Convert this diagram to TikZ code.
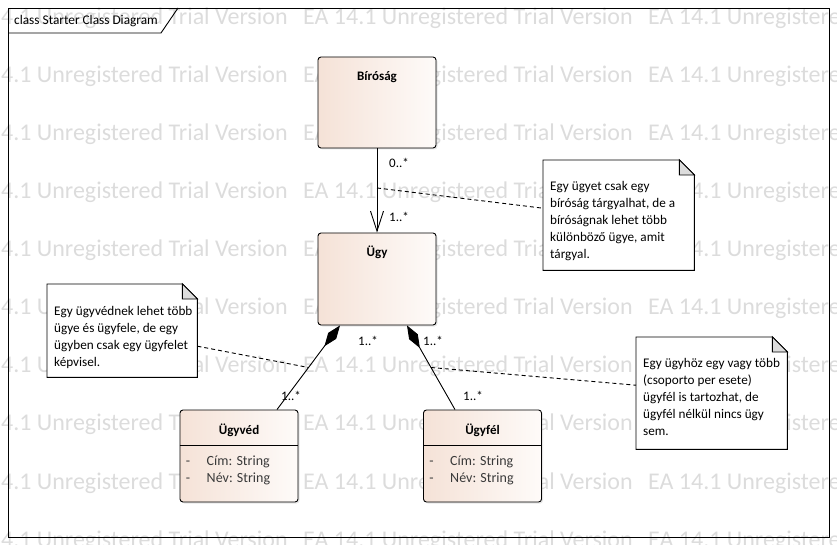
\documentclass[tikz,border=0pt]{standalone}
\usepackage{fontspec}
\setmainfont{Carlito}
\usepackage{tikz}
\usetikzlibrary{arrows.meta,calc,positioning,shadows}
\definecolor{tinta}{HTML}{000000}
\definecolor{attrszin}{HTML}{3A3A3A}
\definecolor{osztaly1}{HTML}{F5E2D7}
\definecolor{osztaly2}{HTML}{FEFBF9}
\definecolor{vizjelszin}{HTML}{DCDCDC}
\definecolor{hajtas}{HTML}{DCDCDC}
\tikzset{
  osztaly/.style={rectangle,rounded corners=3pt,draw=tinta,line width=0.9pt,left color=osztaly1,right color=osztaly2,drop shadow={opacity=0.2,shadow xshift=1.5pt,shadow yshift=-1.5pt},inner sep=0pt,minimum width=118pt},
  cim/.style={font=\fontsize{13}{15}\selectfont\bfseries,inner sep=0pt},
  attrib/.style={font=\fontsize{14}{17}\selectfont,text=attrszin,align=left,inner sep=0pt,anchor=north west},
  jegyzet/.style={rectangle,fill=white,inner sep=0pt,anchor=north west},
  jszoveg/.style={font=\fontsize{13.2}{17}\selectfont,align=left,inner sep=0pt,anchor=north west},
  tobb/.style={font=\fontsize{13}{15}\selectfont,inner sep=0pt,anchor=west},
  asszoc/.style={draw=tinta,line width=0.9pt},
  kompoz/.style={asszoc,{Diamond[length=26pt,width=10pt]}-},
  navig/.style={asszoc,-{Straight Barb[length=20pt,width=13pt]}},
  kapcs/.style={draw=tinta,line width=0.9pt,dash pattern=on 4pt off 3pt},
  vizjel/.style={font=\fontsize{24}{28}\selectfont,text=vizjelszin,anchor=west,inner sep=0pt},
}

\begin{document}
\begin{tikzpicture}[x=1pt,y=-1pt]
  \useasboundingbox (0,0) rectangle (837,545);
  % watermark rows
  \begin{scope}
    \clip (0,0) rectangle (837,545);
    \foreach \r in {0,...,9}{
      \foreach \c in {0,1,2}{
        \node[vizjel] (vj-\r-\c) at (-42+345*\c,18+58.1*\r) {EA 14.1 Unregistered Trial Version};
      }
    }
  \end{scope}
  % frame
  \draw[line width=0.9pt] (8,8) rectangle (829,537);
  \draw[line width=0.9pt] (8,33) -- (161,33) -- (178,8);
  \node[font=\fontsize{13.3}{15}\selectfont,anchor=west,inner sep=0pt] (fejlec) at (14,21) {class Starter Class Diagram};
  % classes
  \node[osztaly,minimum height=91pt] (birosag) at (377,102.5) {};
  \node[cim] (birosag-cim) at ([yshift=-21pt]birosag.north) {Bíróság};
  \node[osztaly,minimum height=92pt] (ugy) at (377,279) {};
  \node[cim] (ugy-cim) at ([yshift=-20pt]ugy.north) {Ügy};
  \node[osztaly,minimum height=92pt] (ugyved) at (239,456) {};
  \node[cim] (ugyved-cim) at ([yshift=-21pt]ugyved.north) {Ügyvéd};
  \node[osztaly,minimum height=92pt] (ugyfel) at (482.5,456) {};
  \node[cim] (ugyfel-cim) at ([yshift=-21pt]ugyfel.north) {Ügyfél};
  \foreach \o in {ugyved,ugyfel}{
    \draw[line width=0.9pt] ([yshift=-36pt]\o.north west) -- ([yshift=-36pt]\o.north east);
    \node[attrib] (\o-attr) at ([xshift=6pt,yshift=-46pt]\o.north west) {\makebox[21pt][l]{-}Cím: String\\\makebox[21pt][l]{-}Név: String};
  }
  % associations
  \draw[navig] (birosag.south) -- (ugy.north);
  \node[tobb] (m1) at ([xshift=12pt,yshift=-14pt]birosag.south) {0..*};
  \node[tobb] (m2) at ([xshift=12pt,yshift=16pt]ugy.north) {1..*};
  \draw[kompoz] ([xshift=-37pt]ugy.south) -- ([xshift=38pt]ugyved.north);
  \draw[kompoz] ([xshift=30pt]ugy.south) -- ([xshift=-27.5pt]ugyfel.north);
  \node[tobb] (m3) at ([xshift=-19pt,yshift=-15pt]ugy.south) {1..*};
  \node[tobb] (m4) at ([xshift=46pt,yshift=-15pt]ugy.south) {1..*};
  \node[tobb] (m5) at ([xshift=42pt,yshift=14pt]ugyved.north) {1..*};
  \node[tobb] (m6) at ([xshift=-19.5pt,yshift=14pt]ugyfel.north) {1..*};
  % notes
  \node[jegyzet,minimum width=151pt,minimum height=110pt] (jegyzet1) at (543,160) {};
  \node[jszoveg] (jsz1) at ([xshift=7pt,yshift=-21pt]jegyzet1.north west) {Egy ügyet csak egy\\bíróság tárgyalhat, de a\\bíróságnak lehet több\\különböző ügye, amit\\tárgyal.};
  \node[jegyzet,minimum width=150pt,minimum height=93pt] (jegyzet2) at (47,284) {};
  \node[jszoveg] (jsz2) at ([xshift=7pt,yshift=-22pt]jegyzet2.north west) {Egy ügyvédnek lehet több\\ügye és ügyfele, de egy\\ügyben csak egy ügyfelet\\képvisel.};
  \node[jegyzet,minimum width=151pt,minimum height=112pt] (jegyzet3) at (636,337) {};
  \node[jszoveg] (jsz3) at ([xshift=7pt,yshift=-21pt]jegyzet3.north west) {Egy ügyhöz egy vagy több\\(csoporto per esete)\\ügyfél is tartozhat, de\\ügyfél nélkül nincs ügy\\sem.};
  \foreach \j in {jegyzet1,jegyzet2,jegyzet3}{
    \draw[line width=0.9pt] (\j.north west) -- ([xshift=-15pt]\j.north east) -- ([yshift=-15pt]\j.north east) -- (\j.south east) -- (\j.south west) -- cycle;
    \draw[line width=0.9pt,fill=hajtas] ([xshift=-15pt]\j.north east) -- ([yshift=-15pt]\j.north east) -- ([xshift=-15pt,yshift=-15pt]\j.north east) -- cycle;
  }
  % note connectors
  \coordinate (k1) at ($(birosag.south)!0.47!(ugy.north)$);
  \coordinate (k2) at ($([xshift=-37pt]ugy.south)!0.5!([xshift=38pt]ugyved.north)$);
  \coordinate (k3) at ($([xshift=30pt]ugy.south)!0.5!([xshift=-27.5pt]ugyfel.north)$);
  \draw[kapcs] (k1) -- ([yshift=7pt]jegyzet1.west);
  \draw[kapcs] ([yshift=-15.5pt]jegyzet2.east) -- (k2);
  \draw[kapcs] (k3) -- ([yshift=8pt]jegyzet3.west);
\end{tikzpicture}
\end{document}
